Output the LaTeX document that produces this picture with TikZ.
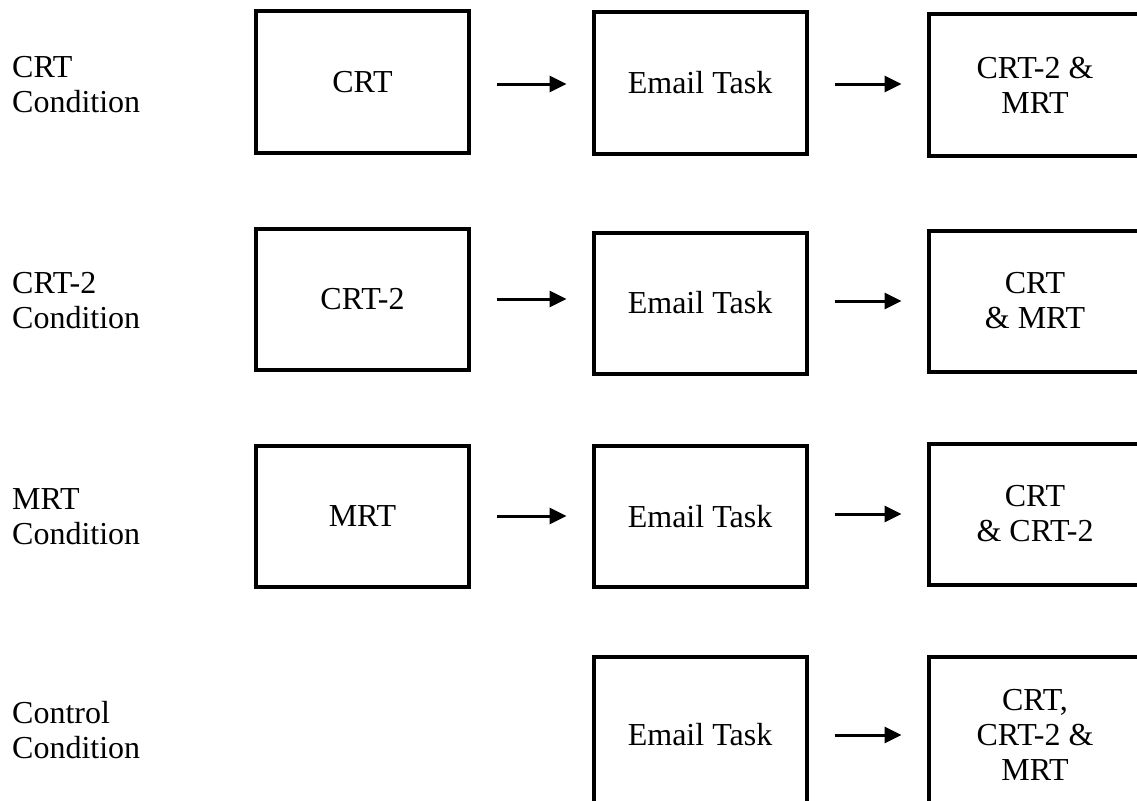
\documentclass[tikz,border=0pt]{standalone}
\usepackage{fontspec}
\setmainfont{Liberation Serif}
\usetikzlibrary{arrows.meta}
\tikzset{
  box/.style={draw,line width=4pt,minimum width=213pt,minimum height=141pt,align=center,inner sep=0pt},
  arr/.style={line width=3pt,-{Triangle[length=17pt,width=16pt]},shorten <=26pt,shorten >=25pt},
  cond/.style={anchor=west,align=left,inner sep=0pt}
}
\begin{document}
\begin{tikzpicture}[x=1pt,y=-1pt,font=\fontsize{32}{35}\selectfont]
        \useasboundingbox (0,0) rectangle (1137,800);
        \node[cond] (lcrt) at (12,85) {CRT\\Condition};
        \node[cond] (lcrtb) at (12,301) {CRT-2\\Condition};
        \node[cond] (lmrt) at (12,517) {MRT\\Condition};
        \node[cond] (lctrl) at (12,730) {Control\\Condition};

        \node[box] (crt) at (362.5,82) {CRT};
        \node[box] (emaila) at (700,83) {Email Task};
        \node[box] (resta) at (1035,85) {CRT-2 \&\\MRT};

        \node[box] (crtb) at (362.5,299) {CRT-2};
        \node[box] (emailb) at (700,303) {Email Task};
        \node[box] (restb) at (1035,301) {CRT\\\& MRT};

        \node[box] (mrt) at (362.5,516) {MRT};
        \node[box] (emailc) at (700,516.5) {Email Task};
        \node[box] (restc) at (1035,514) {CRT\\\& CRT-2};

        \node[box,minimum height=156pt] (emaild) at (700,735) {Email Task};
        \node[box,minimum height=156pt] (restd) at (1035,735) {CRT,\\CRT-2 \&\\MRT};

        \draw[arr] (crt.east |- 0,84) -- (emaila.west |- 0,84);
        \draw[arr] (emaila.east |- 0,84) -- (resta.west |- 0,84);
        \draw[arr] (crtb) -- (emailb.west |- crtb);
        \draw[arr] (emailb.east |- restb) -- (restb);
        \draw[arr] (mrt) -- (emailc.west |- mrt);
        \draw[arr] (emailc.east |- restc) -- (restc);
        \draw[arr] (emaild) -- (restd);
    \end{tikzpicture}
\end{document}
